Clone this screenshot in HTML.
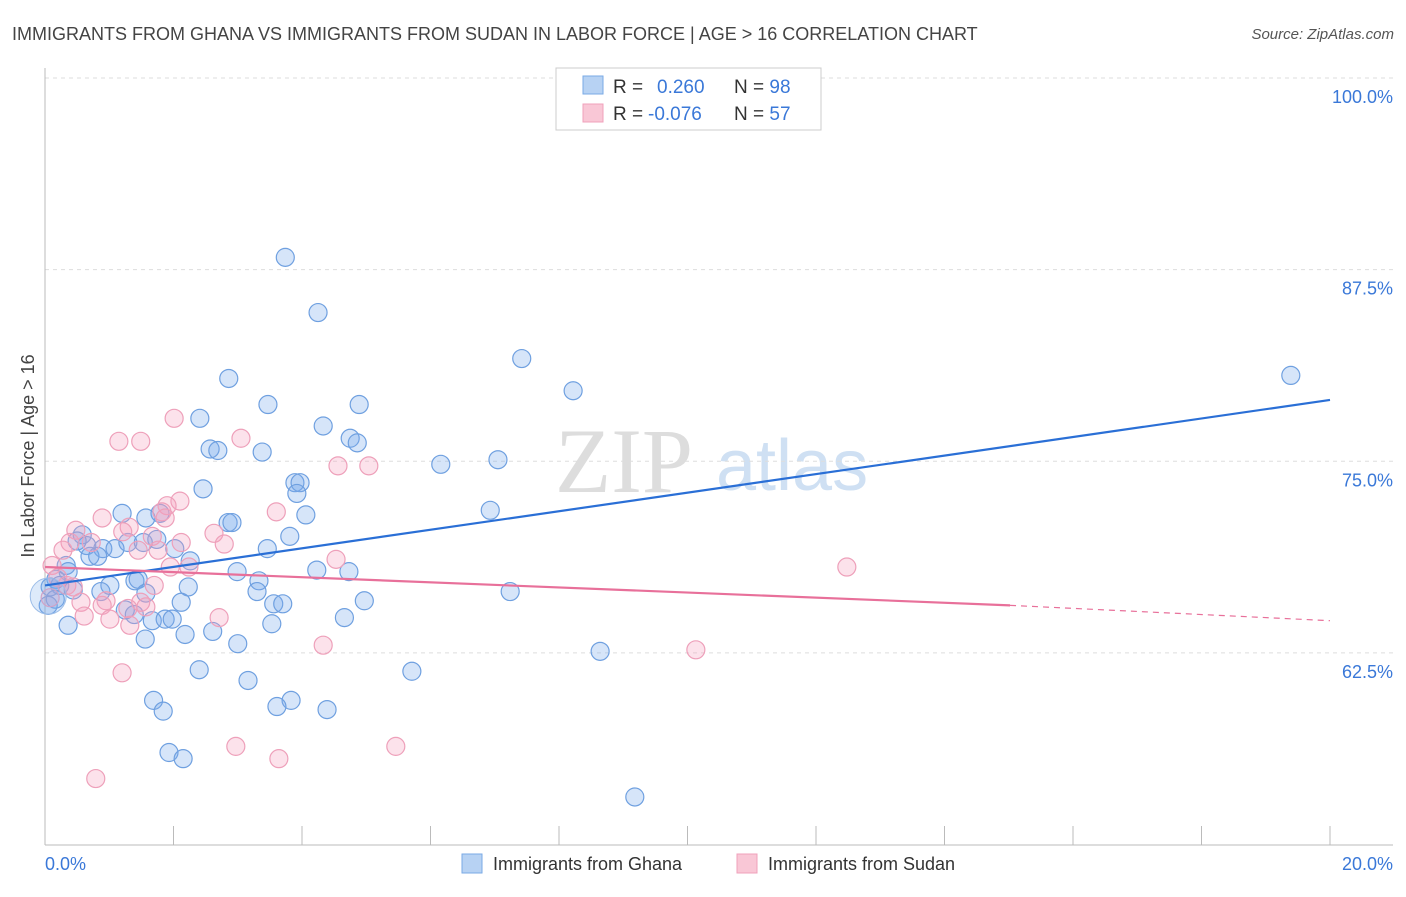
<!DOCTYPE html>
<html><head><meta charset="utf-8"><style>
body{margin:0;width:1406px;height:892px;background:#fff;font-family:"Liberation Sans",sans-serif;overflow:hidden}
</style></head><body>
<svg width="1406" height="892" xmlns="http://www.w3.org/2000/svg" id="chart">
<text x="12" y="40" font-size="18" fill="#444">IMMIGRANTS FROM GHANA VS IMMIGRANTS FROM SUDAN IN LABOR FORCE | AGE &gt; 16 CORRELATION CHART</text>
<text x="1394" y="39" font-size="15" fill="#555" font-style="italic" text-anchor="end">Source: ZipAtlas.com</text>
<g>
<text x="555" y="492" font-size="92" fill="#ddd" font-family="Liberation Serif,serif">ZIP</text>
<text x="716" y="490" font-size="72" fill="#cfe0f3">atlas</text>
</g>
<g id="grid"></g>
<g id="yticks"></g>
<line x1="45" y1="68" x2="45" y2="845" stroke="#bbb"/>
<line x1="45" y1="845" x2="1393" y2="845" stroke="#bbb"/>
<g id="xticks"></g>
<text x="34" y="456" font-size="18" fill="#444" text-anchor="middle" transform="rotate(-90 34 456)">In Labor Force | Age &gt; 16</text>
<text x="45" y="870" font-size="18" fill="#3a78d8">0.0%</text>
<text x="1393" y="870" font-size="18" fill="#3a78d8" text-anchor="end">20.0%</text>
<g id="pts"></g>
<g id="trends"></g>
<g>
<rect x="556" y="68" width="265" height="62" fill="#fff" stroke="#ccc"/>
<rect x="583" y="76" width="20" height="18" fill="#b7d2f3" stroke="#7aaae6"/>
<rect x="583" y="104" width="20" height="18" fill="#f9c7d6" stroke="#f0a0bb"/>
<text x="613" y="93" font-size="19" fill="#333">R = <tspan fill="#3a78d8" x="657">0.260</tspan><tspan x="734" fill="#333">N = </tspan><tspan fill="#3a78d8">98</tspan></text>
<text x="613" y="120" font-size="19" fill="#333">R = <tspan fill="#3a78d8" x="648">-0.076</tspan><tspan x="734" fill="#333">N = </tspan><tspan fill="#3a78d8">57</tspan></text>
</g>
<g>
<rect x="462" y="854" width="20" height="19" fill="#b7d2f3" stroke="#7aaae6"/>
<text x="493" y="870" font-size="18" fill="#333">Immigrants from Ghana</text>
<rect x="737" y="854" width="20" height="19" fill="#f9c7d6" stroke="#f0a0bb"/>
<text x="768" y="870" font-size="18" fill="#333">Immigrants from Sudan</text>
</g>
</svg>
<script>
const yTicks=[100,87.5,75,62.5];
const yTickLabels=["100.0%","87.5%","75.0%","62.5%"];
const xTicks=[0,2,4,6,8,10,12,14,16,18,20];
const ghanaX=[3.74,4.25,7.42,8.22,19.39,2.86,3.47,4.89,2.41,4.33,4.75,4.86,2.57,2.69,3.38,6.16,7.05,2.46,3.89,3.97,3.92,6.93,4.06,2.85,2.91,1.2,1.57,1.79,3.81,1.74,0.58,0.65,0.9,1.09,1.29,1.53,2.02,3.46,0.5,0.7,0.82,2.26,0.33,0.36,2.99,4.23,4.73,0.17,0.23,0.44,1.01,1.4,1.45,2.23,3.33,0.87,1.57,3.3,7.24,0.08,0.16,0.05,2.12,3.56,3.7,4.97,1.25,1.39,1.67,1.87,1.98,4.66,0.36,3.53,1.56,2.18,2.61,3.0,8.64,2.4,5.71,3.16,1.69,3.83,3.61,1.84,4.39,1.93,2.15,9.18];
const ghanaY=[88.3,84.7,81.7,79.6,80.6,80.4,78.7,78.7,77.8,77.3,76.5,76.2,75.8,75.7,75.6,74.8,75.1,73.2,73.6,73.6,72.9,71.8,71.5,71.0,71.0,71.6,71.3,71.6,70.1,69.9,70.2,69.5,69.3,69.3,69.7,69.7,69.3,69.3,69.8,68.8,68.8,68.5,68.2,67.8,67.8,67.9,67.8,67.3,66.9,66.6,66.9,67.2,67.3,66.8,67.2,66.5,66.4,66.5,66.5,66.8,66.0,65.6,65.8,65.7,65.7,65.9,65.3,65.0,64.6,64.7,64.7,64.8,64.3,64.4,63.4,63.7,63.9,63.1,62.6,61.4,61.3,60.7,59.4,59.4,59.0,58.7,58.8,56.0,55.6,53.1];
const sudanX=[2.01,1.15,1.49,3.05,4.56,5.04,2.1,1.9,1.82,1.87,3.6,0.89,1.31,1.21,0.48,2.63,1.67,0.39,0.72,2.12,2.79,0.28,1.45,1.76,4.53,0.11,2.24,12.48,1.95,0.2,0.34,1.7,0.44,0.08,0.56,0.95,1.49,1.57,1.29,0.89,0.61,1.01,2.71,1.32,4.33,10.13,1.2,2.97,5.46,3.64,0.79];
const sudanY=[77.8,76.3,76.3,76.5,74.7,74.7,72.4,72.1,71.7,71.3,71.7,71.3,70.7,70.4,70.5,70.3,70.1,69.7,69.7,69.7,69.6,69.2,69.2,69.2,68.6,68.2,68.1,68.1,68.1,67.4,66.9,66.9,66.8,66.1,65.8,65.9,65.8,65.5,65.4,65.6,64.9,64.7,64.8,64.3,63.0,62.7,61.2,56.4,56.4,55.6,54.3];
const ghanaTrend=[[0,66.9],[20,79.0]];
const sudanTrend=[[0,68.1],[15.02,65.6],[20,64.6]];
const NS="http://www.w3.org/2000/svg";
const sx=v=>45+v/20*1285;
const sy=v=>78+(100-v)*15.33;
function mk(t,a,p){const e=document.createElementNS(NS,t);for(const k in a)e.setAttribute(k,a[k]);p.appendChild(e);return e;}
const grid=document.getElementById('grid'),yt=document.getElementById('yticks'),xt=document.getElementById('xticks'),pts=document.getElementById('pts'),tr=document.getElementById('trends');
yTicks.forEach((v,i)=>{
 const l=mk('line',{x1:45,x2:1393,y1:sy(v),y2:sy(v),stroke:'#ddd','stroke-dasharray':'4,4'},grid);
 
 
 const t=mk('text',{x:1393,y:sy(v)+25,'font-size':18,fill:'#3a78d8','text-anchor':'end'},yt);
 t.textContent=yTickLabels[i];
 
 
});
xTicks.forEach(v=>{
 const l=mk('line',{x1:sx(v),x2:sx(v),y1:826,y2:845,stroke:'#bbb'},xt);
 
 
});
function drawPts(X,Y,fill,stroke,name){
 X.forEach((x,i)=>{
  const c=mk('circle',{cx:sx(x),cy:sy(Y[i]),r:9,fill:fill,stroke:stroke,'stroke-width':1.2},pts);
  
  
 });
}
drawPts(ghanaX,ghanaY,'rgba(120,170,235,0.3)','#6fa0e0','ghana-point');
drawPts(sudanX,sudanY,'rgba(245,160,190,0.3)','#eea0ba','sudan-point');
const big=mk('circle',{cx:sx(0.05),cy:sy(66.2),r:18,fill:'rgba(120,170,235,0.25)',stroke:'#9cbde8'},pts);


const bl=mk('line',{x1:sx(ghanaTrend[0][0]),y1:sy(ghanaTrend[0][1]),x2:sx(ghanaTrend[1][0]),y2:sy(ghanaTrend[1][1]),stroke:'#2a6fd6','stroke-width':2.2},tr);


const pl=mk('line',{x1:sx(sudanTrend[0][0]),y1:sy(sudanTrend[0][1]),x2:sx(sudanTrend[1][0]),y2:sy(sudanTrend[1][1]),stroke:'#e8709a','stroke-width':2.2},tr);


const pd=mk('line',{x1:sx(sudanTrend[1][0]),y1:sy(sudanTrend[1][1]),x2:sx(sudanTrend[2][0]),y2:sy(sudanTrend[2][1]),stroke:'#e8709a','stroke-width':1.2,'stroke-dasharray':'6,5'},tr);


</script>
</body></html>
